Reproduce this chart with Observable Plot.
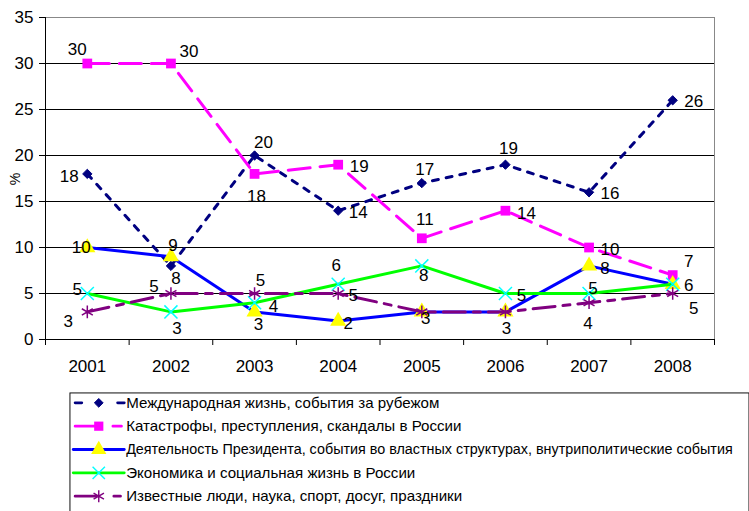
<!DOCTYPE html>
<html>
<head>
<meta charset="utf-8">
<script src="https://cdn.jsdelivr.net/npm/d3@7"></script>
<script src="https://cdn.jsdelivr.net/npm/@observablehq/plot@0.6"></script>
<style>
  html, body { margin: 0; padding: 0; background: #fff; overflow: hidden; }
  #wrap { position: relative; width: 749px; height: 511px; overflow: hidden; font-family: "Liberation Sans", Arial, sans-serif; }
  #chart { position: absolute; left: 0; top: 0; }
  #legend { position: absolute; left: 69px; top: 392px; }
</style>
</head>
<body>
<div id="wrap"><div id="chart"></div><div id="legend"></div></div>
<script>
// ---- data ----
const years = [2001, 2002, 2003, 2004, 2005, 2006, 2007, 2008];
const seriesNames = [
  "Международная жизнь, события за рубежом",
  "Катастрофы, преступления, скандалы в России",
  "Деятельность Президента, события во властных структурах, внутриполитические события",
  "Экономика и социальная жизнь в России",
  "Известные люди, наука, спорт, досуг, праздники"
];
const intlValues      = [18, 8, 20, 14, 17, 19, 16, 26];
const disasterValues  = [30, 30, 18, 19, 11, 14, 10, 7];
const presidentValues = [10, 9, 3, 2, 3, 3, 8, 6];
const economyValues   = [5, 3, 4, 6, 8, 5, 5, 6];
const peopleValues    = [3, 5, 5, 5, 3, 3, 4, 5];
const yTicks = [0, 5, 10, 15, 20, 25, 30, 35];

// ---- styles ----
const styles = [
  {stroke: "#000080", dash: "6,8", symbol: "diamond2", fill: "#000080", mstroke: "#000080", sw: 1, r: 4.2, legendDash: "7,38,7"},
  {stroke: "#FF00FF", dash: "22,10", symbol: "square", fill: "#FF00FF", mstroke: "none", sw: 1, r: 5.5, legendDash: "25,15,9"},
  {stroke: "#0000FF", dash: null, symbol: "triangle", fill: "#FFFF00", mstroke: "none", sw: 1, r: 6, legendDash: null},
  {stroke: "#00FF00", dash: null, symbol: "times", fill: "none", mstroke: "#00FFFF", sw: 1.5, r: 6, legendDash: null},
  {stroke: "#800080", dash: "22,8,7,8", symbol: "asterisk", fill: "none", mstroke: "#800080", sw: 1.5, r: 6, legendDash: "22,19,7"}
];
// label offsets (dx, dy) in pixels for each point
const labelOffsets = [
  [[-18, 3], [5, 13], [9, -13], [20, 2], [3, -14], [3, -16], [21, 1], [21, 1]],
  [[-10, -14], [18, -12], [2, 23], [21, 2], [3, -19], [21, 3], [21, 2], [16, -14]],
  [[-6, 0], [2, -11], [4, 13], [10, 2], [4, 7], [1, 17], [16, 3], [16, 1]],
  [[-10, -4], [6, 17], [19, 4], [-2, -19], [2, 10], [16, 2], [4, -5], [16, 1]],
  [[-19, 10], [-17, -7], [6, -13], [15, 2], [4, 7], [1, 17], [-1, 21], [21, 15]]
];

const valueArrays = [intlValues, disasterValues, presidentValues, economyValues, peopleValues];
const rows = [];
valueArrays.forEach((vals, s) => vals.forEach((v, i) => rows.push({series: s, year: years[i], value: v, dx: labelOffsets[s][i][0], dy: labelOffsets[s][i][1]})));

const font = "Liberation Sans, Arial, sans-serif";
const boundaries = d3.range(years.length + 1).map(i => years[0] - 0.5 + i);

const marks = [
  Plot.ruleY(yTicks.filter(t => t > 0 && t < 35), {stroke: "#000", strokeWidth: 1}),
  Plot.ruleY([35], {stroke: "#888", strokeWidth: 1}),
  Plot.ruleX([boundaries[boundaries.length - 1]], {y1: 0, y2: 35, stroke: "#888", strokeWidth: 1}),
  Plot.ruleY([0], {stroke: "#000", strokeWidth: 1}),
  Plot.ruleX([boundaries[0]], {y1: 0, y2: 35, stroke: "#000", strokeWidth: 1}),
  Plot.axisY({ticks: yTicks, tickSize: 6, tickPadding: 6, tickFormat: d => String(d), label: null, fontSize: 17, stroke: "#000", fill: "#000"}),
  Plot.axisX({ticks: boundaries, tickSize: 6, tickFormat: () => "", label: null, stroke: "#000"}),
  Plot.axisX({ticks: years, tickSize: 0, tickPadding: 20, tickFormat: d => String(d), label: null, fontSize: 17, fill: "#000"})
];

styles.forEach((st, s) => {
  const data = rows.filter(d => d.series === s);
  marks.push(Plot.line(data, {x: "year", y: "value", stroke: st.stroke, strokeWidth: 3, strokeDasharray: st.dash || undefined}));
  marks.push(Plot.dot(data, {x: "year", y: "value", symbol: () => st.symbol, r: st.r, fill: st.fill, stroke: st.mstroke, strokeWidth: st.sw}));
});
// value labels (identical overlapping labels drawn once)
const seen = new Set();
rows.forEach(d => {
  const key = `${d.year}|${d.value}|${d.dx}|${d.dy}`;
  if (seen.has(key)) return;
  seen.add(key);
  marks.push(Plot.text([d], {x: "year", y: "value", text: d => String(d.value), dx: d.dx, dy: d.dy, fontSize: 17, fill: "#000"}));
});

const chart = Plot.plot({
  width: 749,
  height: 385,
  marginTop: 17,
  marginBottom: 46,
  marginLeft: 45,
  marginRight: 35,
  style: {fontFamily: font, fontSize: "17px", color: "#000", background: "#fff"},
  x: {type: "linear", domain: [boundaries[0], boundaries[boundaries.length - 1]]},
  y: {domain: [0, 35]},
  marks
});
document.getElementById("chart").appendChild(chart);
const svgNS = "http://www.w3.org/2000/svg";
const pct = document.createElementNS(svgNS, "text");
pct.setAttribute("transform", "translate(20,179) rotate(-90)");
pct.setAttribute("text-anchor", "middle");
pct.setAttribute("font-size", "14");
pct.setAttribute("font-family", font);
pct.textContent = "%";
chart.appendChild(pct);

// ---- legend ----
const legendRows = seriesNames.map((name, i) => ({name, i, y: 11 + i * 24.7}));
const lmarks = [Plot.frame({stroke: "#000", strokeWidth: 1, inset: 0.5})];
legendRows.forEach(r => {
  const st = styles[r.i];
  const x0 = r.i < 2 || r.i === 4 ? 6 : 4;
  const x1 = r.i === 1 ? 55 : 58;
  lmarks.push(Plot.line([{x: x0, y: r.y}, {x: x1, y: r.y}], {x: "x", y: "y", stroke: st.stroke, strokeWidth: 3, strokeDasharray: st.legendDash || undefined}));
  lmarks.push(Plot.dot([{x: 31, y: r.y}], {x: "x", y: "y", symbol: () => st.symbol, r: st.r, fill: st.fill, stroke: st.mstroke, strokeWidth: st.sw}));
  lmarks.push(Plot.text([r], {x: () => 60, y: "y", text: "name", textAnchor: "start", fontSize: r.name.length > 60 ? 15.2 : 16, fill: "#000"}));
});
const legend = Plot.plot({
  width: 720, height: 140,
  margin: 0,
  axis: null,
  style: {fontFamily: font, background: "#fff"},
  x: {type: "identity", axis: null}, y: {type: "identity", axis: null},
  marks: lmarks
});
document.getElementById("legend").appendChild(legend);
</script>
</body>
</html>
